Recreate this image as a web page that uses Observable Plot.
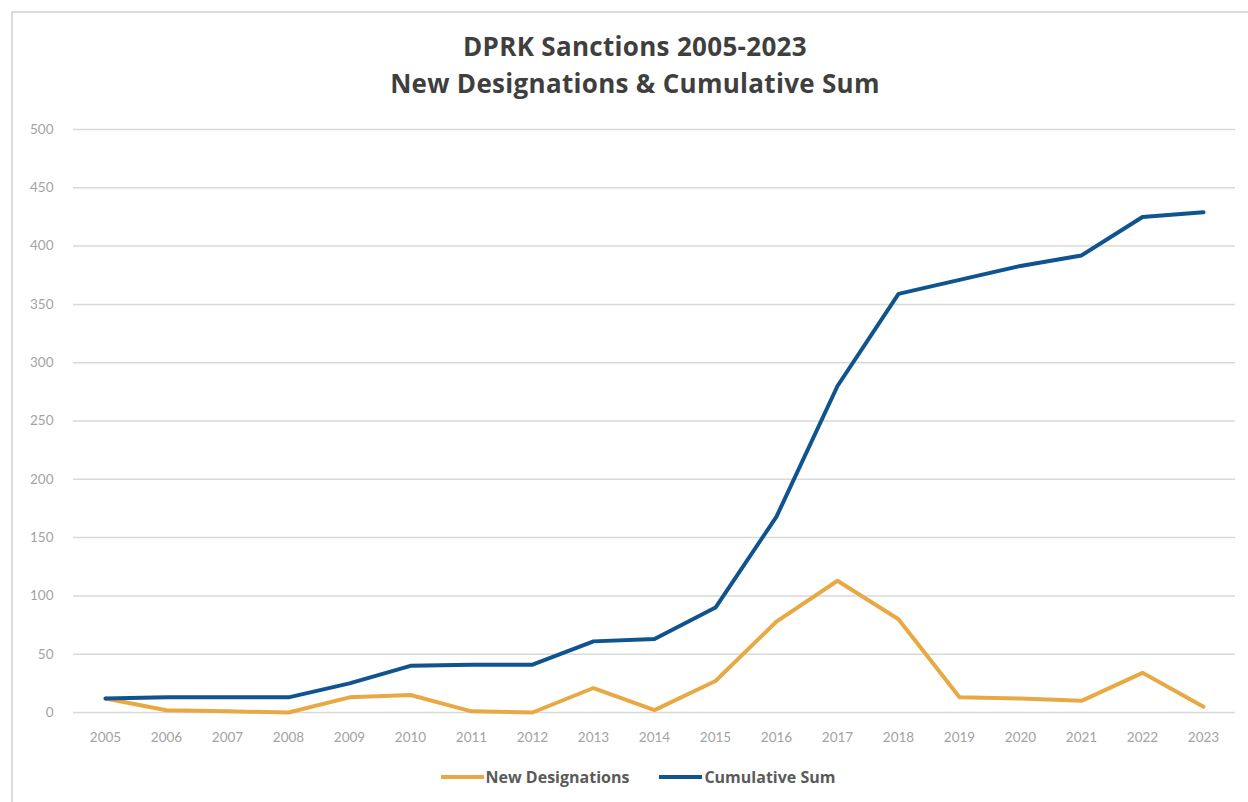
<!DOCTYPE html>
<html>
<head>
<meta charset="utf-8">
<script src="https://cdn.jsdelivr.net/npm/d3@7"></script>
<script src="https://cdn.jsdelivr.net/npm/@observablehq/plot@0.6"></script>
<style>
  html, body { margin: 0; padding: 0; background: #fff; }
  body { width: 1248px; height: 802px; position: relative; overflow: hidden; font-family: Lato, "Open Sans", sans-serif; }
  #frame { position: absolute; left: 11px; top: 11px; width: 1240px; height: 800px; border-left: 2px solid #dcdcdc; border-top: 2px solid #dcdcdc; }
  #title { position: absolute; left: 0; width: 1270px; top: 28px; text-align: center; font-family: "Open Sans", Lato, sans-serif; font-weight: 700; font-size: 26px; line-height: 37px; color: #3f3f3f; letter-spacing: 0.3px; }
  #chart { position: absolute; left: 0; top: 110px; }
  #legend { position: absolute; top: 766px; left: 0; width: 1276px; display: flex; justify-content: center; gap: 30px; font-family: "Open Sans", Lato, sans-serif; font-weight: 700; font-size: 16px; color: #5a5a5a; }
  .item { display: flex; align-items: center; }
  .sw { display: inline-block; width: 43px; height: 4px; margin-right: 2px; }
</style>
</head>
<body>
<div id="frame"></div>
<div id="title">DPRK Sanctions 2005-2023<br>New Designations &amp; Cumulative Sum</div>
<div id="chart"></div>
<div id="legend"></div>
<script>
const years = [2005, 2006, 2007, 2008, 2009, 2010, 2011, 2012, 2013, 2014, 2015, 2016, 2017, 2018, 2019, 2020, 2021, 2022, 2023];
const newDesignations = [12, 2, 1, 0, 13, 15, 1, 0, 21, 2, 27, 78, 113, 80, 13, 12, 10, 34, 5];
const cumulativeSum = [12, 13, 13, 13, 25, 40, 41, 41, 61, 63, 90, 168, 280, 359, 371, 383, 392, 425, 429];
const yTicks = [0, 50, 100, 150, 200, 250, 300, 350, 400, 450, 500];
const seriesNames = ["New Designations", "Cumulative Sum"];
const seriesColors = ["#E8A945", "#0F548E"];

const rows = [];
years.forEach((yr, i) => {
  rows.push({year: yr, value: newDesignations[i], series: seriesNames[0]});
  rows.push({year: yr, value: cumulativeSum[i], series: seriesNames[1]});
});

const chart = Plot.plot({
  width: 1248,
  height: 650,
  marginTop: 19,
  marginBottom: 48,
  marginLeft: 73,
  marginRight: 13,
  style: {fontFamily: "Lato, 'Open Sans', sans-serif", fontSize: "13.5px", color: "#a3a3a3", background: "transparent"},
  x: {type: "point", domain: years, padding: 0.5, label: null, tickSize: 0, tickPadding: 20, tickFormat: d => String(d)},
  y: {domain: [0, 500], ticks: yTicks, label: null, tickSize: 0, tickPadding: 20},
  color: {domain: seriesNames, range: seriesColors},
  marks: [
    Plot.ruleY(yTicks, {stroke: "#d9d9d9", strokeWidth: 1.5}),
    Plot.line(rows, {x: "year", y: "value", z: "series", stroke: "series", strokeWidth: 4, strokeLinejoin: "round", strokeLinecap: "round"})
  ]
});
document.getElementById("chart").appendChild(chart);

const legend = document.getElementById("legend");
seriesNames.forEach((name, i) => {
  const item = document.createElement("div");
  item.className = "item";
  const sw = document.createElement("span");
  sw.className = "sw";
  sw.style.background = seriesColors[i];
  item.appendChild(sw);
  item.appendChild(document.createTextNode(name));
  legend.appendChild(item);
});
</script>
</body>
</html>
